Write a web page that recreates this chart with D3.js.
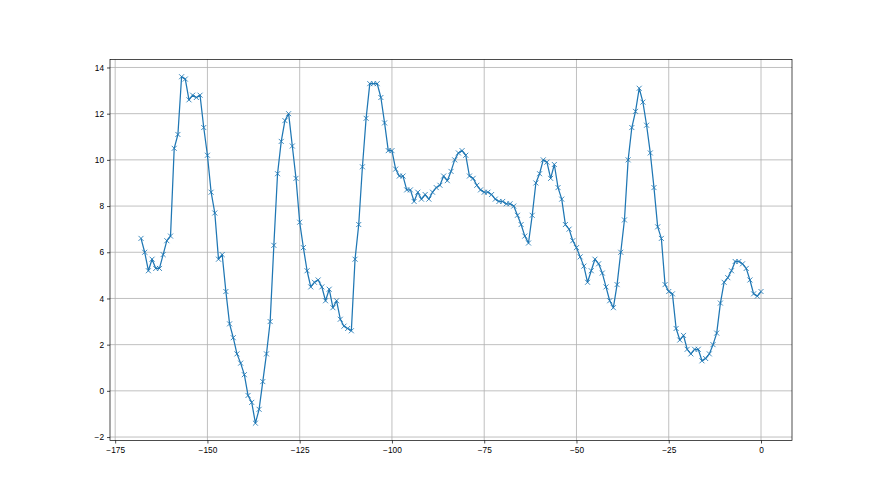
<!DOCTYPE html>
<html>
<head>
<meta charset="utf-8">
<script src="https://cdn.jsdelivr.net/npm/d3@7"></script>
<style>
  body { margin: 0; background: white; }
</style>
</head>
<body>
<svg id="canvas" width="880" height="495"></svg>
<script>
//data, one point per step
var xStart = -168;
var yValues = [
  6.6, 6.0, 5.2, 5.7, 5.3, 5.3, 5.9, 6.5, 6.7, 10.5,
  11.1, 13.6, 13.5, 12.6, 12.8, 12.7, 12.8, 11.4, 10.2, 8.6,
  7.7, 5.7, 5.9, 4.3, 2.9, 2.3, 1.6, 1.2, 0.7, -0.2,
  -0.5, -1.4, -0.8, 0.4, 1.6, 3.0, 6.3, 9.4, 10.8, 11.7,
  12.0, 10.6, 9.2, 7.3, 6.2, 5.2, 4.5, 4.7, 4.8, 4.5,
  3.9, 4.4, 3.6, 3.9, 3.1, 2.8, 2.7, 2.6, 5.7, 7.2,
  9.7, 11.8, 13.3, 13.3, 13.3, 12.7, 11.6, 10.4, 10.4, 9.6,
  9.3, 9.3, 8.7, 8.7, 8.2, 8.6, 8.3, 8.5, 8.3, 8.6,
  8.8, 8.9, 9.3, 9.1, 9.5, 10.0, 10.3, 10.4, 10.2, 9.3,
  9.2, 8.9, 8.7, 8.6, 8.6, 8.5, 8.3, 8.2, 8.2, 8.1,
  8.1, 8.0, 7.6, 7.2, 6.7, 6.4, 7.6, 9.0, 9.4, 10.0,
  9.9, 9.2, 9.8, 8.8, 8.3, 7.2, 7.0, 6.5, 6.2, 5.8,
  5.4, 4.7, 5.2, 5.7, 5.5, 5.1, 4.5, 3.9, 3.6, 4.6,
  6.0, 7.4, 10.0, 11.4, 12.1, 13.1, 12.5, 11.5, 10.3, 8.8,
  7.1, 6.6, 4.6, 4.3, 4.2, 2.7, 2.2, 2.4, 1.8, 1.6,
  1.8, 1.8, 1.3, 1.4, 1.6, 2.0, 2.5, 3.8, 4.7, 4.9,
  5.2, 5.6, 5.6, 5.5, 5.3, 4.8, 4.2, 4.1, 4.3
];
var xTicks = [-175, -150, -125, -100, -75, -50, -25, 0];
var yTicks = [-2, 0, 2, 4, 6, 8, 10, 12, 14];

var data = yValues.map(function(v, i) { return [xStart + i, v]; });

var svg = d3.select("#canvas");
var width = +svg.attr("width");
var height = +svg.attr("height");

//plot box, same fractions matplotlib uses by default
var boxLeft = 110, boxRight = 792, boxTop = 59.4, boxBottom = 440.5;

//5% margin around the data
var xMin = d3.min(data, function(d) { return d[0]; });
var xMax = d3.max(data, function(d) { return d[0]; });
var yMin = d3.min(yValues), yMax = d3.max(yValues);
var xPad = (xMax - xMin) * 0.05, yPad = (yMax - yMin) * 0.05;

var xScale = d3.scaleLinear()
  .domain([xMin - xPad, xMax + xPad])
  .range([boxLeft, boxRight]);
var yScale = d3.scaleLinear()
  .domain([yMin - yPad, yMax + yPad])
  .range([boxBottom, boxTop]);

var fmt = function(d) { return d < 0 ? "\u2212" + Math.abs(d) : "" + d; };

//grid lines
svg.append("g")
  .selectAll("line.vgrid")
  .data(xTicks).enter()
  .append("line")
  .attr("x1", function(d) { return xScale(d); })
  .attr("x2", function(d) { return xScale(d); })
  .attr("y1", boxTop).attr("y2", boxBottom)
  .style("stroke", "#b0b0b0")
  .style("stroke-width", 0.8);

svg.append("g")
  .selectAll("line.hgrid")
  .data(yTicks).enter()
  .append("line")
  .attr("y1", function(d) { return yScale(d); })
  .attr("y2", function(d) { return yScale(d); })
  .attr("x1", boxLeft).attr("x2", boxRight)
  .style("stroke", "#b0b0b0")
  .style("stroke-width", 0.8);

//axes
var xAxis = d3.axisBottom(xScale)
  .tickValues(xTicks)
  .tickFormat(fmt)
  .tickSize(3)
  .tickPadding(3.6);
var yAxis = d3.axisLeft(yScale)
  .tickValues(yTicks)
  .tickFormat(fmt)
  .tickSize(3)
  .tickPadding(3);

var gx = svg.append("g")
  .attr("transform", "translate(0," + boxBottom + ")")
  .call(xAxis);
var gy = svg.append("g")
  .attr("transform", "translate(" + boxLeft + ",0)")
  .call(yAxis);

[gx, gy].forEach(function(g) {
  g.select(".domain").remove();
  g.selectAll(".tick line").style("stroke", "#000").style("stroke-width", 0.7);
  g.selectAll(".tick text")
    .style("font-family", "Liberation Sans, Arial, sans-serif")
    .style("font-size", "8.3px")
    .style("fill", "#000");
});

//frame
svg.append("rect")
  .attr("x", boxLeft).attr("y", boxTop)
  .attr("width", boxRight - boxLeft).attr("height", boxBottom - boxTop)
  .style("fill", "none")
  .style("stroke", "#000")
  .style("stroke-width", 0.7);

//the line
var line = d3.line()
  .x(function(d) { return xScale(d[0]); })
  .y(function(d) { return yScale(d[1]); });

svg.append("path")
  .datum(data)
  .attr("d", line)
  .style("fill", "none")
  .style("stroke", "#1f77b4")
  .style("stroke-width", 1.25)
  .style("stroke-linejoin", "round");

//x markers
var m = 2.5;
svg.append("g")
  .selectAll("path.marker")
  .data(data).enter()
  .append("path")
  .attr("transform", function(d) { return "translate(" + xScale(d[0]) + "," + yScale(d[1]) + ")"; })
  .attr("d", "M" + (-m) + "," + (-m) + "L" + m + "," + m + "M" + (-m) + "," + m + "L" + m + "," + (-m))
  .style("stroke", "#1f77b4")
  .style("stroke-width", 0.85)
  .style("fill", "none");
</script>
</body>
</html>
